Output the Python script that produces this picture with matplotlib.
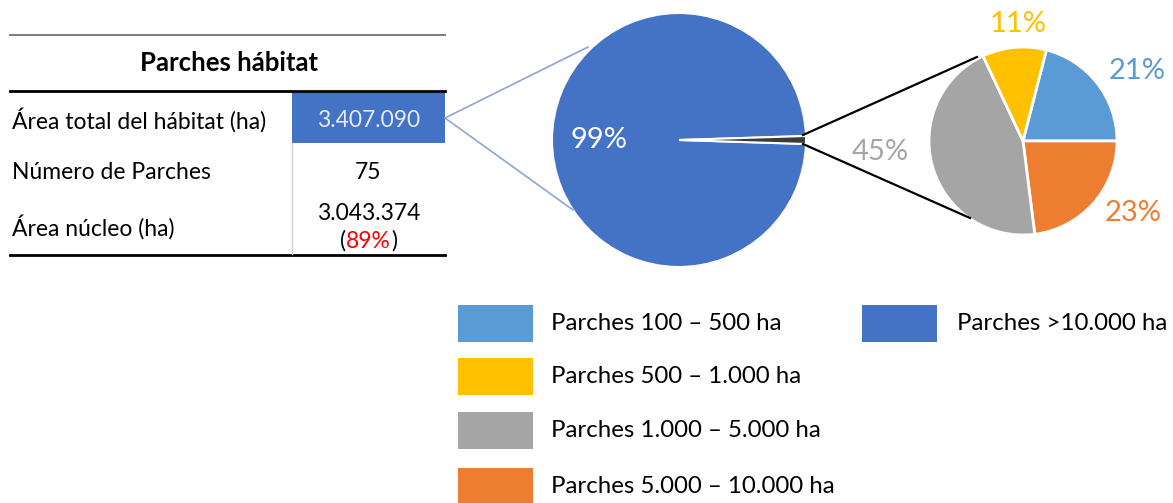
import matplotlib
matplotlib.use("Agg")
import matplotlib.pyplot as plt
from matplotlib.patches import Rectangle

W, H = 1173, 503

# ---------------- data ----------------
table_title = "Parches hábitat"
row_labels = ["Área total del hábitat (ha)", "Número de Parches", "Área núcleo (ha)"]
row_values = ["3.407.090", "75", "3.043.374"]
core_pct = "89%"

main_labels = ["Parches >10.000 ha", "Parches < 10.000 ha"]
main_values = [99, 1]

sub_labels = ["Parches 100 – 500 ha", "Parches 5.000 – 10.000 ha",
              "Parches 1.000 – 5.000 ha", "Parches 500 – 1.000 ha"]
sub_values = [21, 23, 45, 11]

legend_col1 = ["Parches 100 – 500 ha", "Parches 500 – 1.000 ha",
               "Parches 1.000 – 5.000 ha", "Parches 5.000 – 10.000 ha"]
legend_col2 = ["Parches >10.000 ha"]

colors = {
    "Parches 100 – 500 ha": "#5B9BD5",
    "Parches 500 – 1.000 ha": "#FFC000",
    "Parches 1.000 – 5.000 ha": "#A5A5A5",
    "Parches 5.000 – 10.000 ha": "#ED7D31",
    "Parches >10.000 ha": "#4472C4",
    "Parches < 10.000 ha": "#3A3A3A",
}

# label placement for the small pie (pixel positions, top-left origin)
sub_label_pos = [(1137, 71), (1133, 213), (880, 152), (1018, 24)]

FONT = ["Lato", "DejaVu Sans"]
plt.rcParams["font.family"] = FONT


def Y(y):
    return H - y


fig = plt.figure(figsize=(W / 100, H / 100), dpi=100)
ax = fig.add_axes([0, 0, 1, 1])

# ---------------- big pie ----------------
big_c = (679, Y(140))
big_r = 127
wedges, texts, autotexts = ax.pie(
    main_values, colors=[colors[l] for l in main_labels],
    startangle=1.8, center=big_c, radius=big_r,
    autopct=lambda p: f"{p:.0f}%" if p > 50 else "",
    pctdistance=0.63,
    wedgeprops=dict(edgecolor="white", linewidth=1.5),
    textprops=dict(color="white", fontsize=21),
)

# ---------------- small pie ----------------
sm_c = (1023, Y(141))
sm_r = 94
sw, st, sat = ax.pie(
    sub_values, colors=[colors[l] for l in sub_labels],
    startangle=75.6, counterclock=False, center=sm_c, radius=sm_r,
    autopct=lambda p: f"{p:.0f}%", pctdistance=1.42,
    wedgeprops=dict(edgecolor="white", linewidth=2),
    textprops=dict(fontsize=21),
)
for t, l, (px, py) in zip(sat, sub_labels, sub_label_pos):
    t.set_color(colors[l])
    t.set_position((px, Y(py)))
    t.set_va("center")

# ---------------- connector lines ----------------
ax.plot([445, 588], [Y(118), Y(47)], color="#8EA4D8", lw=1.2)
ax.plot([445, 573], [Y(118), Y(210)], color="#8EA4D8", lw=1.2)
ax.plot([803, 977], [Y(135), Y(57)], color="black", lw=1.6)
ax.plot([803, 970], [Y(144), Y(218)], color="black", lw=1.6)

# ---------------- table ----------------
tx0, tx1, split = 10, 445, 292
ax.plot([tx0, tx1], [Y(35), Y(35)], color="#808080", lw=1.5)
ax.plot([tx0, tx1], [Y(91), Y(91)], color="black", lw=2)
ax.plot([tx0, tx1], [Y(255), Y(255)], color="black", lw=2)
ax.plot([split, split], [Y(143), Y(254)], color="#D0D0D0", lw=1)
ax.add_patch(Rectangle((split, Y(143)), tx1 - split, 52,
                       facecolor=colors["Parches >10.000 ha"], edgecolor="none"))

TFS = 16.5
ax.text((tx0 + tx1) / 2 + 2, Y(63), table_title, ha="center", va="center",
        fontsize=18.5, fontweight="bold")
row_y = [120, 172, 227]
for lab, yy in zip(row_labels, row_y):
    ax.text(12, Y(yy), lab, ha="left", va="center", fontsize=TFS)
vx = (split + tx1) / 2
ax.text(vx, Y(120), row_values[0], ha="center", va="center", fontsize=TFS, color="#E6ECF7")
ax.text(vx, Y(172), row_values[1], ha="center", va="center", fontsize=TFS)
ax.text(vx, Y(213), row_values[2], ha="center", va="center", fontsize=TFS)
# "(89%)" with red percentage
red = ax.text(vx, Y(241), core_pct, ha="center", va="center", fontsize=TFS, color="#FF0000")
ax.annotate("(", xy=(0, 0.5), xycoords=red, ha="right", va="center", fontsize=TFS)
ax.annotate(")", xy=(1, 0.5), xycoords=red, ha="left", va="center", fontsize=TFS)

# ---------------- legend ----------------
LFS = 17.3
box_w, box_h = 75, 37
col_x = [458, 862]
row_top = [305, 358, 412, 468]
for lab, top in zip(legend_col1, row_top):
    ax.add_patch(Rectangle((col_x[0], Y(top + box_h)), box_w, box_h,
                           facecolor=colors[lab], edgecolor="none"))
    ax.text(col_x[0] + box_w + 18, Y(top + box_h / 2), lab, ha="left", va="center", fontsize=LFS)
for lab, top in zip(legend_col2, row_top):
    ax.add_patch(Rectangle((col_x[1], Y(top + box_h)), box_w, box_h,
                           facecolor=colors[lab], edgecolor="none"))
    ax.text(col_x[1] + box_w + 20, Y(top + box_h / 2), lab, ha="left", va="center", fontsize=LFS)

ax.set_xlim(0, W)
ax.set_ylim(0, H)
ax.set_aspect("equal")
ax.axis("off")
fig.savefig("out.png", dpi=100)
